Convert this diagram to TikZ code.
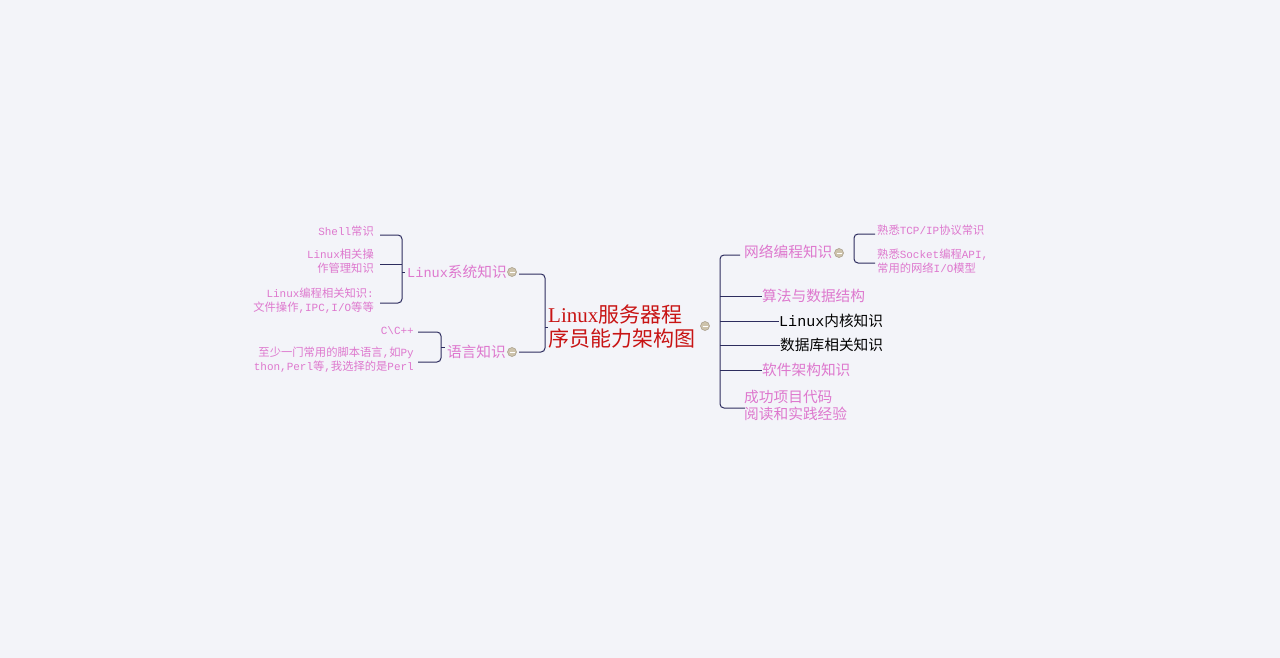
\documentclass[tikz,border=0pt]{standalone}
\usepackage{fontspec}
\setmainfont{Noto Sans CJK SC}
\newfontfamily\monol{Liberation Mono}[Scale=0.97]
\newfontfamily\serifl{Liberation Serif}
\newcommand\ltn[1]{{\monol #1}}
\definecolor{bgc}{RGB}{243,244,249}
\definecolor{pinkt}{RGB}{222,120,206}
\definecolor{navy}{RGB}{45,45,95}
\definecolor{titler}{RGB}{200,20,20}
\definecolor{iconf}{RGB}{205,195,172}
\definecolor{icond}{RGB}{165,155,135}
\tikzset{
  br/.style={draw=navy,line width=1pt,rounded corners=4pt},
  small/.style={text=pinkt,inner sep=0pt,font=\fontsize{11.3}{13.8}\selectfont,align=right},
  smallr/.style={text=pinkt,inner sep=0pt,font=\fontsize{11.3}{13.8}\selectfont,align=left},
  mid/.style={text=pinkt,inner sep=0pt,font=\fontsize{14.7}{17}\selectfont,align=left},
  midk/.style={mid,text=black},
  icon/.style={circle,draw=icond,fill=iconf,minimum size=9pt,inner sep=0pt,line width=0.5pt,
    path picture={\draw[white,line width=1pt] ([xshift=-2.5pt]path picture bounding box.center) -- ([xshift=2.5pt]path picture bounding box.center);}},
}
\begin{document}
\begin{tikzpicture}[x=1pt,y=-1pt]
\fill[bgc] (0,0) rectangle (1280,658);
\useasboundingbox (0,0) rectangle (1280,658);

% centre
\node[text=titler,inner sep=0pt,align=left,font=\fontsize{21}{24}\selectfont,anchor=west] (root) at (548,327)
  {{\serifl Linux}服务器程\\ 序员能力架构图};
\node[icon] (rooticon) at (705,326) {};

% left level 1
\node[mid,anchor=west] (lsys) at (407,272) {\ltn{\fontsize{14}{17}\selectfont Linux}系统知识};
\node[icon] (lsysicon) at (512,272) {};
\node[mid,anchor=east] (lang) at (506,352) {语言知识};
\node[icon] (langicon) at (512,352) {};

\coordinate (lb1) at (519,274);
\coordinate (lb2) at (519,352);
\draw[br] (lb1) -- (545,274) -- (545,352) -- (lb2);
\draw[br] (545,327) -- (root.west);

% Linux system children
\node[small,anchor=east] (shell) at (374,231) {\ltn{Shell}常识};
\node[small,anchor=east] (lops) at (374,261) {\ltn{Linux}相关操\\作管理知识};
\node[small,anchor=east] (lprog) at (374,301) {\ltn{Linux}编程相关知识\ltn{:}\\文件操作\ltn{,IPC,I/O}等等};
\coordinate (s1) at (380,235);
\coordinate (s2) at (380,264);
\coordinate (s3) at (380,303);
\draw[br] (s1) -- (402,235) -- (402,303) -- (s3);
\draw[br] (s2) -- (402,264);
\draw[br] (402,272) -- ([xshift=-2pt]lsys.west);

% language children
\node[small,anchor=east] (cpp) at (414,331) {\ltn{C\textbackslash C++}};
\node[small,anchor=east] (script) at (414,360) {至少一门常用的脚本语言\ltn{,}如\ltn{Py}\\\ltn{thon,Perl}等\ltn{,}我选择的是\ltn{Perl}};
\coordinate (c1) at (418,332);
\coordinate (c2) at (418,362);
\coordinate (ct) at (445,347);
\draw[br] (c1) -- (441,332) -- (441,362) -- (c2);
\draw[br] (441,347) -- (ct);

% right level 1
\node[mid,anchor=west] (net) at (744,252) {网络编程知识};
\node[icon] (neticon) at (839,253) {};
\node[mid,anchor=west] (algo) at (762,296) {算法与数据结构};
\node[midk,anchor=west] (kern) at (779,321) {\ltn{\fontsize{15.5}{17}\selectfont Linux}内核知识};
\node[midk,anchor=west] (db) at (780,345) {数据库相关知识};
\node[mid,anchor=west] (arch) at (762,370) {软件架构知识};
\node[mid,anchor=west] (proj) at (744,405) {成功项目代码\\阅读和实践经验};

\coordinate (r1) at (740,255);
\coordinate (r6) at (745,408);
\draw[br] (r1) -- (720,255) -- (720,408) -- (r6);
\draw[br] (720,296) -- (algo.west);
\draw[br] (720,321) -- (kern.west);
\draw[br] (720,345) -- (db.west);
\draw[br] (720,370) -- (arch.west);

% network children
\node[smallr,anchor=west] (tcp) at (877,230) {熟悉\ltn{TCP/IP}协议常识};
\node[smallr,anchor=west] (sock) at (877,261) {熟悉\ltn{Socket}编程\ltn{API,}\\常用的网络\ltn{I/O}模型};
\coordinate (n1) at (875,234);
\coordinate (n2) at (875,263);
\draw[br] (n1) -- (854,234) -- (854,263) -- (n2);
\end{tikzpicture}
\end{document}
